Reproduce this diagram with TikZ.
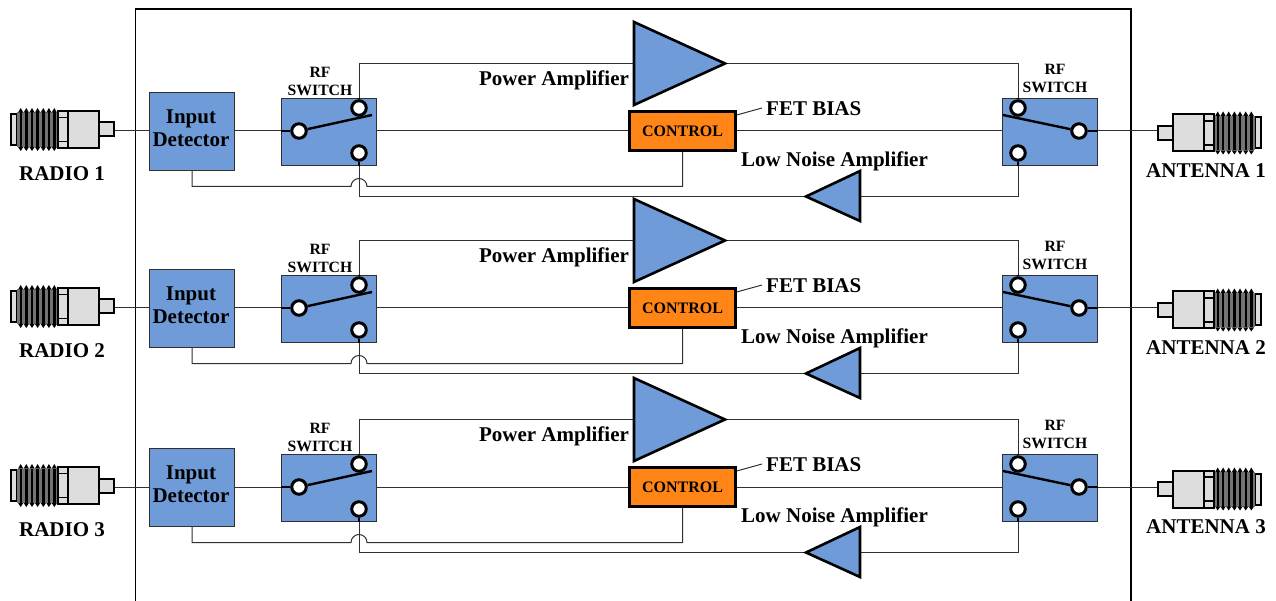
\documentclass[tikz,border=0pt]{standalone}
\usepackage{fontspec}
\setmainfont{Liberation Serif}
\definecolor{boxblue}{HTML}{6F9BD8}
\definecolor{ctrlorange}{HTML}{FF8517}
\definecolor{plugfill}{HTML}{DDDDDD}
\definecolor{wire}{HTML}{303030}
\tikzset{
  wireline/.style={draw=wire,line width=1pt},
  bluebox/.style={draw=wire,fill=boxblue,line width=1pt,inner sep=0pt,anchor=north west},
  amptri/.style={draw=black,fill=boxblue,line width=2.6pt,line join=miter},
  ctrlbox/.style={draw=black,fill=ctrlorange,line width=3.2pt,inner sep=0pt,minimum width=106pt,minimum height=39pt,
    font=\fontsize{16}{18}\selectfont\bfseries},
  contact/.style={circle,draw=black,fill=white,line width=3pt,inner sep=0pt,minimum size=14.5pt},
  lever/.style={draw=black,line width=2.4pt},
  lab/.style={font=\fontsize{21}{23}\selectfont\bfseries,inner sep=0pt,align=center},
  swlab/.style={font=\fontsize{15.7}{18}\selectfont\bfseries,inner sep=0pt,align=center},
  plugline/.style={draw=black,line width=2pt,fill=plugfill},
  rfplug/.pic={
    \draw[plugline] (-48,-15.5) rectangle (-42,15.5);
    \fill[black!55] (-42,-17) rectangle (-2,17.5);
    \foreach \tx in {-38.3,-32.7,-27,-21.4,-15.7,-10.1,-4.7}{
      \fill[black] (\tx-1.2,-17) rectangle (\tx+1.2,17.5);
      \fill[black] (\tx-2.6,-17) -- (\tx,-21.5) -- (\tx+2.6,-17) -- cycle;
      \fill[black] (\tx-2.6,17.5) -- (\tx,21.5) -- (\tx+2.6,17.5) -- cycle;
    }
    \draw[plugline] (-1,-18.5) rectangle (9,18.5);
    \draw[black,line width=1.6pt] (-1,-12) -- (9,-12) (-1,12) -- (9,12);
    \draw[plugline] (9,-18.5) rectangle (40,18.5);
    \draw[plugline] (40,-7) rectangle (55,7);
  }
}
\begin{document}
\begin{tikzpicture}[x=1pt,y=-1pt]
  \useasboundingbox (0,0) rectangle (1276,601);
  % outer frame, open at the bottom
  \coordinate (fa) at (135.5,601);
  \coordinate (fb) at (135.5,9);
  \coordinate (fc) at (1131,9);
  \coordinate (fd) at (1131,601);
  \draw[black,line width=1.8pt] (fa) -- (fb) -- (fc) -- (fd);
  \foreach \row/\dy in {1/0,2/177,3/356}{
    \begin{scope}[yshift=-\dy pt]
      % coordinates for wires and amplifiers
      \coordinate (rin\row) at (115,131);
      \coordinate (aout\row) at (1157,131);
      \coordinate (pain\row) at (634,63.5);
      \coordinate (patip\row) at (725,63.5);
      \coordinate (lnain\row) at (860,196.5);
      \coordinate (lnatip\row) at (806,196.5);
      \coordinate (hopa\row) at (351,186.5);
      \coordinate (hopb\row) at (367,186.5);
      % connectors on both sides
      \pic at (59,129.5) {rfplug};
      \begin{scope}[shift={(1213,133)},xscale=-1]
        \pic[transform shape] at (0,0) {rfplug};
      \end{scope}
      % the boxes
      \node[bluebox,minimum width=85pt,minimum height=78pt] (det\row) at (149,92) {};
      \node[bluebox,minimum width=95pt,minimum height=67pt] (swl\row) at (281,98) {};
      \node[bluebox,minimum width=95pt,minimum height=67pt] (swr\row) at (1002,98) {};
      \node[ctrlbox] (ctrl\row) at (682.5,131) {CONTROL};
      \node[contact] (lc\row) at (299,131) {};
      \node[contact] (lt\row) at (359,108) {};
      \node[contact] (lb\row) at (359,153) {};
      \node[contact] (rc\row) at (1079,131) {};
      \node[contact] (rt\row) at (1018,108) {};
      \node[contact] (rb\row) at (1018,153) {};
      \coordinate (lv\row) at (372,115);
      \coordinate (rv\row) at (1003,115);
      \draw[lever] (lc\row) -- (lv\row);
      \draw[lever] (rc\row) -- (rv\row);
      \draw[lever] (swl\row.west |- lc\row) -- (lc\row);
      \draw[lever] (swr\row.east |- rc\row) -- (rc\row);
      \draw[lever] (lt\row) -- (lt\row |- swl\row.north);
      \draw[lever] (rt\row) -- (rt\row |- swr\row.north);
      \draw[lever] (lb\row) -- (lb\row |- swl\row.south);
      \draw[lever] (rb\row) -- (rb\row |- swr\row.south);
      % wires
      \draw[wireline] (rin\row) -- (det\row.west |- rin\row);
      \draw[wireline] (det\row.east |- rin\row) -- (swl\row.west |- rin\row);
      \draw[wireline] (swl\row.east |- rin\row) -- (ctrl\row.west);
      \draw[wireline] (ctrl\row.east) -- (swr\row.west |- rin\row);
      \draw[wireline] (swr\row.east |- aout\row) -- (aout\row);
      \draw[wireline] (lt\row |- swl\row.north) -- (lt\row |- pain\row) -- (pain\row);
      \draw[wireline] (patip\row) -- (rt\row |- patip\row) -- (rt\row |- swr\row.north);
      \draw[wireline] (rb\row |- swr\row.south) -- (rb\row |- lnain\row) -- (lnain\row);
      \draw[wireline] (lnatip\row) -- (lb\row |- lnatip\row) -- (lb\row |- swl\row.south);
      \draw[wireline] (det\row.south) -- (det\row.south |- hopa\row) -- (hopa\row)
        arc[start angle=180,end angle=0,radius=8pt] -- (ctrl\row.south |- hopb\row) -- (ctrl\row.south);
      \draw[amptri] (pain\row) -- (634,22) -- (patip\row) -- (634,105) -- cycle;
      \draw[amptri] (lnatip\row) -- (860,171) -- (860,221) -- cycle;
      \coordinate (fet\row) at (762,108);
      \draw[wireline] ([yshift=-5pt]ctrl\row.north east) -- (fet\row);
      % labels
      \node[lab] (detlab\row) at (191,128.5) {Input\\Detector};
      \node[lab] (radio\row) at (62,174) {RADIO \row};
      \node[lab] (ant\row) at (1206,171) {ANTENNA \row};
      \node[lab] (pa\row) at (554,80) {Power Amplifier};
      \node[lab] (lna\row) at (834.5,161) {Low Noise Amplifier};
      \node[lab,anchor=west] (bias\row) at (766,109) {FET BIAS};
      \node[swlab] (rfl\row) at (320,81.5) {RF\\SWITCH};
      \node[swlab] (rfr\row) at (1055,78.5) {RF\\SWITCH};
    \end{scope}
  }
\end{tikzpicture}
\end{document}
